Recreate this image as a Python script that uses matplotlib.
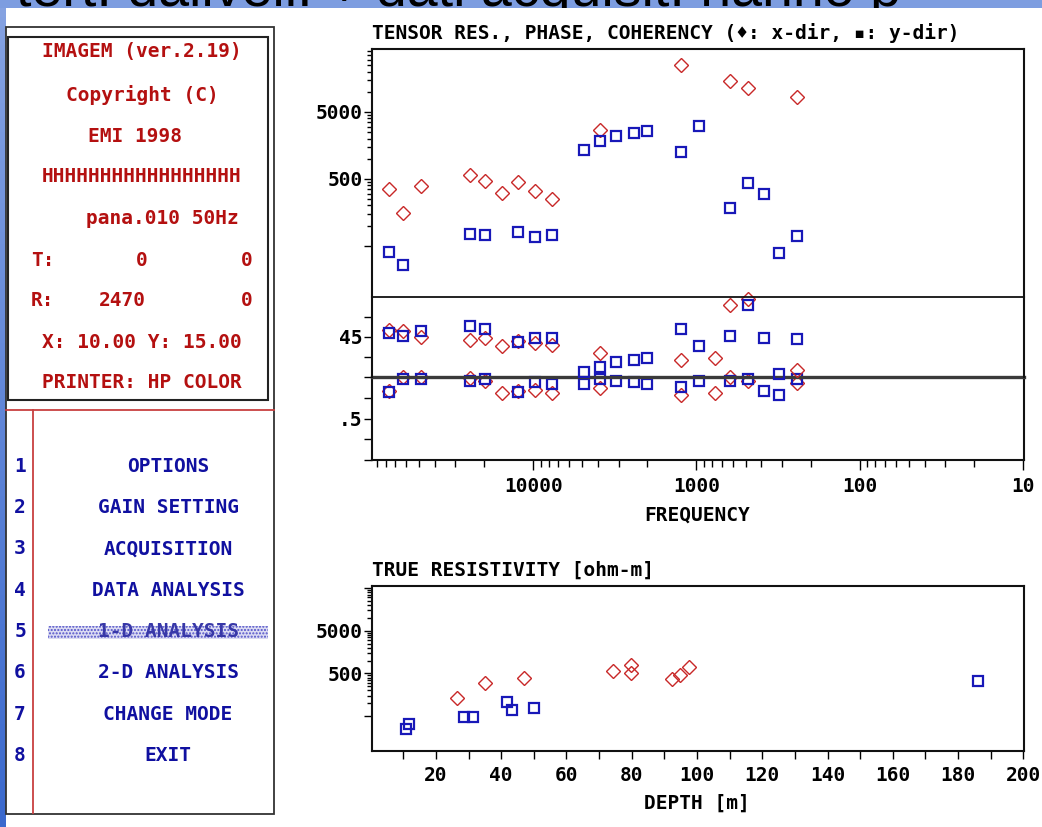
import numpy as np
import matplotlib.pyplot as plt
from matplotlib.patches import Rectangle
from matplotlib.colors import LinearSegmentedColormap
from matplotlib.ticker import FixedLocator, FixedFormatter, LogLocator, NullFormatter, FuncFormatter

W, H = 1042, 827
MONO = ['DejaVu Sans Mono', 'DejaVu Sans']
RED_TXT = '#b41010'
BLUE_TXT = '#1010a0'
RED = '#c82828'
BLUE = '#1818b8'
FS = 14

nan = np.nan

# sounding frequencies (Hz)
freq = [77000, 62500, 48600, 24400, 19700, 15600, 12400, 9700, 7700, 4900, 3900,
        3100, 2400, 2000, 1250, 970, 773, 625, 485, 385, 310, 243]

# apparent resistivity (ohm-m)
rho_x = [350, 154, 396, 565, 470, 312, 445, 333, 248, nan, 2670,
         nan, nan, nan, 24800, nan, nan, 14450, 11400, nan, nan, 8360]
rho_y = [39.9, 26.2, nan, 75.7, 71.4, nan, 79.1, 67.6, 71.4, 1345, 1850,
         2170, 2440, 2600, 1270, 3060, nan, 183, 439, 295, 39.1, 70.6]

# phase (deg)
phase_x = [53.2, 51.6, 45.0, 42.1, 43.9, 34.7, 40.5, 37.7, 35.8, nan, 27.3,
           nan, nan, nan, 19.2, nan, 21.0, 80.8, 87.5, nan, nan, 8.1]
phase_y = [49.8, 46.1, 51.6, 57.1, 53.5, nan, 38.8, 44.3, 44.3, 6.2, 11.8,
           17.3, 19.2, 21.0, 53.5, 34.7, nan, 46.1, 80.1, 44.3, 3.7, 42.4]

# coherency
coh_x = [0.83, 1.0, 1.0, 0.99, 0.96, 0.81, 0.84, 0.85, 0.81, nan, 0.87,
         nan, nan, nan, 0.79, nan, 0.81, 1.0, 0.96, nan, nan, 0.93]
coh_y = [0.82, 0.98, 0.98, 0.95, 0.98, nan, 0.82, 0.94, 0.92, 0.92, 0.98,
         0.96, 0.94, 0.92, 0.88, 0.96, nan, 0.96, 0.98, 0.84, 0.79, 0.98]

# 1-D inversion: depth (m) vs true resistivity (ohm-m)
depth_x = [26.4, 35.1, 47.0, 74.4, 79.8, 79.8, 92.3, 94.9, 97.4]
true_rho_x = [134, 301, 399, 581, 788, 514, 372, 469, 697]
depth_y = [10.8, 11.8, 28.7, 31.3, 41.9, 43.4, 50.0, 186.1]
true_rho_y = [25.6, 33.5, 47.9, 47.9, 110, 70.8, 77.6, 340]

menu_items = ['OPTIONS', 'GAIN SETTING', 'ACQUISITION', 'DATA ANALYSIS',
              '1-D ANALYSIS', '2-D ANALYSIS', 'CHANGE MODE', 'EXIT']

fig = plt.figure(figsize=(W / 100, H / 100), dpi=100, facecolor='white')


def px_axes(x0, y0, x1, y1, **kw):
    # axes placed by screen pixel box (top-left origin)
    return fig.add_axes([x0 / W, 1 - y1 / H, (x1 - x0) / W, (y1 - y0) / H], **kw)


# ---- screen chrome -------------------------------------------------------
bg = fig.add_axes([0, 0, 1, 1])
bg.set_axis_off()
grad = LinearSegmentedColormap.from_list('strip', ['#86a3e2', '#3b69cd'])
bg.imshow(np.linspace(0, 1, 200).reshape(-1, 1), cmap=grad, extent=(0, 6, H, 0),
          aspect='auto', zorder=0)
bg.set_xlim(0, W)
bg.set_ylim(H, 0)

band = px_axes(0, 0, W, 8)
band.set_facecolor('#7d9de0')
band.set_xticks([])
band.set_yticks([])
for s in band.spines.values():
    s.set_visible(False)
band.text(0.015, 0.3, 'tert: dalivell: + dati acquisit: hanno p', transform=band.transAxes,
          fontsize=40, family='Liberation Sans', va='baseline', ha='left', clip_on=True)

# left panel
bg.add_patch(Rectangle((6, 27), 268, 787, fill=False, ec='#333333', lw=1.3))
bg.add_patch(Rectangle((8, 37), 260, 363, fill=False, ec='#222222', lw=1.5))
bg.plot([6, 274], [410, 410], color='#c84040', lw=1.3)
bg.plot([33, 33], [410, 813], color='#c84040', lw=1.3)

txt = dict(family=MONO, fontweight='bold', fontsize=FS, color=RED_TXT, va='center')
bg.text(142, 52, 'IMAGEM (ver.2.19)', ha='center', **txt)
bg.text(142, 95, 'Copyright (C)', ha='center', **txt)
bg.text(135, 136, 'EMI 1998', ha='center', **txt)
bg.text(142, 177, 'HHHHHHHHHHHHHHHHH', ha='center', **txt)
bg.text(162, 219, 'pana.010 50Hz', ha='center', **txt)
bg.text(31, 260, 'T:', ha='left', **txt)
bg.text(142, 260, '0', ha='center', **txt)
bg.text(247, 260, '0', ha='center', **txt)
bg.text(31, 301, 'R:', ha='left', **txt)
bg.text(122, 301, '2470', ha='center', **txt)
bg.text(247, 301, '0', ha='center', **txt)
bg.text(142, 342, 'X: 10.00 Y: 15.00', ha='center', **txt)
bg.text(142, 383, 'PRINTER: HP COLOR', ha='center', **txt)

bg.add_patch(Rectangle((48, 626), 220, 13, facecolor='#dcdcf2', edgecolor='#5050c8',
                       hatch='.....', lw=0))
for i, item in enumerate(menu_items):
    y = 466 + i * 41.4
    bg.text(20, y, str(i + 1), ha='center', va='center', family=MONO,
            fontweight='bold', fontsize=FS, color=BLUE_TXT)
    bg.text(168, y, item, ha='center', va='center', family=MONO, fontweight='bold',
            fontsize=FS, color='#3838a8' if i == 4 else BLUE_TXT)

bg.text(372, 33, 'TENSOR RES., PHASE, COHERENCY (\u2666: x-dir, \u25aa: y-dir)',
        ha='left', va='center', family=MONO, fontweight='bold', fontsize=FS, color='black')
bg.text(697, 515, 'FREQUENCY', ha='center', va='center', family=MONO,
        fontweight='bold', fontsize=FS)
bg.text(372, 570, 'TRUE RESISTIVITY [ohm-m]', ha='left', va='center', family=MONO,
        fontweight='bold', fontsize=FS)
bg.text(697, 803, 'DEPTH [m]', ha='center', va='center', family=MONO,
        fontweight='bold', fontsize=FS)

# ---- plot axes -----------------------------------------------------------
ax_coh = px_axes(372.3, 377.3, 1024.3, 460)
ax_ph = px_axes(372.3, 296.5, 1024.3, 377.3, sharex=ax_coh)
ax_rho = px_axes(372.3, 49.3, 1024.3, 296.5, sharex=ax_coh)
ax_true = px_axes(372.3, 586, 1024.3, 750.7)

tick_font = dict(family=MONO, weight='bold', size=FS)
for ax in (ax_rho, ax_ph, ax_coh, ax_true):
    ax.patch.set_alpha(0)
    for s in ax.spines.values():
        s.set_linewidth(1.5)
        s.set_color('#111111')
    ax.tick_params(which='both', direction='out', width=1.0, right=False, top=False,
                   labelsize=FS, pad=1)
    ax.tick_params(which='major', length=6)
    ax.tick_params(which='minor', length=3.5)

ax_rho.spines['bottom'].set_visible(False)
ax_ph.spines['top'].set_linewidth(1.3)
ax_ph.spines['bottom'].set_visible(False)
ax_coh.spines['top'].set_linewidth(2.4)
ax_coh.spines['top'].set_color('#3a3a3a')
ax_rho.tick_params(which='both', bottom=False, labelbottom=False)
ax_ph.tick_params(which='both', bottom=False, labelbottom=False)

ax_coh.set_xscale('log')
ax_coh.set_xlim(96800, 9.8)
ax_coh.xaxis.set_major_locator(FixedLocator([10, 100, 1000, 10000]))
ax_coh.xaxis.set_major_formatter(FuncFormatter(lambda v, _: f'{v:g}'))
ax_coh.xaxis.set_minor_locator(LogLocator(base=10, subs=np.arange(2, 10)))
ax_coh.xaxis.set_minor_formatter(NullFormatter())
ax_coh.tick_params(axis='x', which='major', length=7, pad=5)
ax_coh.tick_params(axis='x', which='minor', length=5)

log_minor = [b * k for b in (50, 500, 5000) for k in range(2, 10)]

ax_rho.set_yscale('log')
ax_rho.set_ylim(8.75, 43000)
ax_rho.yaxis.set_major_locator(FixedLocator([50, 500, 5000]))
ax_rho.yaxis.set_major_formatter(FixedFormatter(['', '500', '5000']))
ax_rho.yaxis.set_minor_locator(FixedLocator(log_minor))
ax_rho.yaxis.set_minor_formatter(NullFormatter())

ax_ph.set_ylim(0, 90)
ax_ph.yaxis.set_major_locator(FixedLocator([22.5, 45, 67.5]))
ax_ph.yaxis.set_major_formatter(FixedFormatter(['', '45', '']))

ax_coh.set_ylim(0, 1)
ax_coh.yaxis.set_major_locator(FixedLocator([0, 0.25, 0.5, 0.75, 1.0]))
ax_coh.yaxis.set_major_formatter(FixedFormatter(['', '', '.5', '', '']))

dia = dict(ls='none', marker='D', ms=7.5, mfc='none', mec=RED, mew=1.0, clip_on=False)
sqr = dict(ls='none', marker='s', ms=7, mfc='none', mec=BLUE, mew=1.6, clip_on=False)

ax_rho.plot(freq, rho_x, **dia)
ax_rho.plot(freq, rho_y, **sqr)
ax_ph.plot(freq, phase_x, **dia)
ax_ph.plot(freq, phase_y, **sqr)
ax_coh.plot(freq, coh_x, **dia)
ax_coh.plot(freq, coh_y, **sqr)

ax_true.set_yscale('log')
ax_true.set_ylim(7.8, 55600)
ax_true.set_xlim(0.5, 200.3)
ax_true.yaxis.set_major_locator(FixedLocator([50, 500, 5000, 50000]))
ax_true.yaxis.set_major_formatter(FixedFormatter(['', '500', '5000', '']))
ax_true.yaxis.set_minor_locator(FixedLocator(log_minor))
ax_true.yaxis.set_minor_formatter(NullFormatter())
ax_true.xaxis.set_major_locator(FixedLocator(np.arange(10, 201, 10)))
ax_true.xaxis.set_major_formatter(FuncFormatter(lambda v, _: f'{v:.0f}' if v % 20 == 0 else ''))
ax_true.tick_params(axis='x', which='major', length=6, pad=5)
ax_true.plot(depth_x, true_rho_x, **dia)
ax_true.plot(depth_y, true_rho_y, **sqr)

for ax in (ax_rho, ax_ph, ax_coh, ax_true):
    for lab in ax.get_xticklabels() + ax.get_yticklabels():
        lab.set_fontproperties(tick_font)

fig.savefig('out.png', dpi=100, facecolor='white')
